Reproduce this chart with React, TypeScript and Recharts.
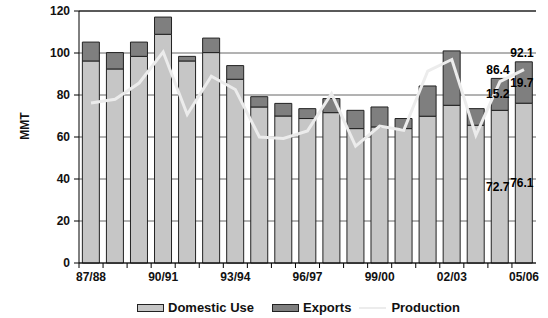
import {
  Bar,
  CartesianGrid,
  ComposedChart,
  LabelList,
  Legend,
  Line,
  ReferenceLine,
  XAxis,
  YAxis,
} from "recharts";

const seasons = [
  "87/88", "88/89", "89/90", "90/91", "91/92", "92/93", "93/94", "94/95", "95/96", "96/97",
  "97/98", "98/99", "99/00", "00/01", "01/02", "02/03", "03/04", "04/05", "05/06",
];
const domesticUse = [
  96.2, 92.4, 98.4, 108.9, 96.2, 100.2, 87.5, 74.3, 70.0, 68.8,
  71.6, 64.0, 64.8, 64.0, 69.9, 75.1, 65.6, 72.7, 76.1,
];
const exportVolumes = [
  9.0, 7.8, 6.8, 8.2, 2.2, 6.9, 6.5, 4.9, 6.0, 4.7,
  6.7, 8.7, 9.5, 4.8, 14.4, 25.9, 7.9, 15.2, 19.7,
];
const production = [
  76.2, 78.0, 85.7, 100.5, 70.7, 88.9, 82.6, 60.0, 59.3, 62.9,
  80.7, 55.7, 65.2, 63.2, 91.4, 96.9, 60.8, 86.4, 92.1,
];
const shownSeasons = ["87/88", "90/91", "93/94", "96/97", "99/00", "02/03", "05/06"];
const labelledSeasons = ["04/05", "05/06"];
const yTicks = [0, 20, 40, 60, 80, 100, 120];

const data = seasons.map((season, i) => ({
  season,
  domestic: domesticUse[i],
  exports: exportVolumes[i],
  production: production[i],
}));

const W = 548;
const H = 318;
const M = { top: 11, right: 12, left: 19, bottom: 13 };
const Y_AXIS_W = 60;
const PLOT_W = W - M.left - M.right - Y_AXIS_W;
const FONT = "Liberation Sans, Arial, sans-serif";

function SeasonTick(props: any) {
  const { x, y, payload } = props;
  const step = PLOT_W / seasons.length;
  return (
    <g>
      <line x1={x - step / 2} x2={x - step / 2} y1={y} y2={y + 5} stroke="#000" />
      {shownSeasons.includes(payload.value) && (
        <text x={x} y={y + 18} textAnchor="middle" fontSize={12} fontWeight={700} fill="#111" fontFamily={FONT}>
          {payload.value}
        </text>
      )}
    </g>
  );
}

const barLabel = (props: any) => {
  const { x, y, width, height, value, index } = props;
  if (!labelledSeasons.includes(seasons[index])) return null;
  return (
    <text x={x + width / 2 - 2} y={y + height / 2 + 4} textAnchor="middle" fontSize={12} fontWeight={700} fill="#000" fontFamily={FONT}>
      {value}
    </text>
  );
};

const lineLabel = (props: any) => {
  const { x, y, value, index } = props;
  if (!labelledSeasons.includes(seasons[index])) return null;
  const lift = index === seasons.length - 1 ? 13 : 8;
  return (
    <text x={x - 2} y={y - lift} textAnchor="middle" fontSize={12} fontWeight={700} fill="#000" fontFamily={FONT}>
      {value}
    </text>
  );
};

function LegendContent() {
  const swatch = (fill: string) => (
    <span style={{ display: "inline-block", width: 25, height: 6, background: fill, border: "1px solid #222", marginRight: 4 }} />
  );
  return (
    <div style={{ display: "flex", alignItems: "center", fontFamily: FONT, fontWeight: 700, fontSize: 13, color: "#111", whiteSpace: "nowrap" }}>
      {swatch("#c6c6c6")}
      <span style={{ marginRight: 18 }}>Domestic Use</span>
      {swatch("#7f7f7f")}
      <span style={{ marginRight: 8 }}>Exports</span>
      <span style={{ display: "inline-block", width: 27, height: 2, background: "#ececec", marginRight: 5 }} />
      <span>Production</span>
    </div>
  );
}

export default function App() {
  return (
    <div style={{ position: "absolute", left: 0, top: 0, width: W, height: H, background: "#fff" }}>
      <ComposedChart width={W} height={H} data={data} margin={M} barCategoryGap="14%">
        <CartesianGrid vertical={false} stroke="#666" />
        <XAxis
          dataKey="season"
          interval={0}
          tickSize={0}
          tickMargin={0}
          tickLine={false}
          tick={<SeasonTick />}
          axisLine={{ stroke: "#000" }}
          height={24}
        />
        <YAxis
          domain={[0, 120]}
          ticks={yTicks}
          width={Y_AXIS_W}
          tickSize={5}
          tickMargin={4}
          axisLine={{ stroke: "#000" }}
          tickLine={{ stroke: "#000" }}
          tick={{ fontSize: 12, fontWeight: 700, fill: "#111", fontFamily: FONT }}
          label={{
            content: () => (
              <text x={29} y={126} transform="rotate(-90 29 126)" textAnchor="middle" fontSize={12} fontWeight={700} fill="#111" fontFamily={FONT}>
                MMT
              </text>
            ),
          }}
        />
        <YAxis yAxisId="frame" orientation="right" domain={[0, 120]} width={0} tick={false} tickLine={false} axisLine={{ stroke: "#000" }} />
        <ReferenceLine y={120} stroke="#000" />
        <Bar dataKey="domestic" name="Domestic Use" stackId="s" fill="#c6c6c6" stroke="#222" isAnimationActive={false}>
          <LabelList dataKey="domestic" content={barLabel} />
        </Bar>
        <Bar dataKey="exports" name="Exports" stackId="s" fill="#7f7f7f" stroke="#222" isAnimationActive={false}>
          <LabelList dataKey="exports" content={barLabel} />
        </Bar>
        <Line dataKey="production" name="Production" type="linear" stroke="#ececec" strokeWidth={3} dot={false} isAnimationActive={false}>
          <LabelList dataKey="production" content={lineLabel} />
        </Line>
        <Legend content={<LegendContent />} wrapperStyle={{ left: 137, top: 300, width: 400, height: 18 }} />
      </ComposedChart>
    </div>
  );
}
